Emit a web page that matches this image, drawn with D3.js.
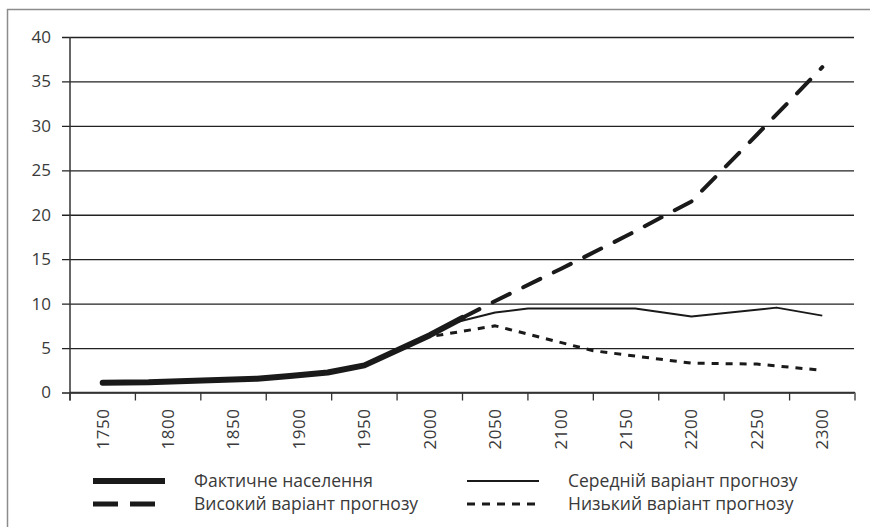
<!DOCTYPE html>
<html>
<head>
<meta charset="utf-8">
<script src="https://cdn.jsdelivr.net/npm/d3@7"></script>
<style>
  body { margin: 0; background: #fff; }
  svg { display: block; font-family: "Open Sans", sans-serif; }
</style>
</head>
<body>
<div id="chart"></div>
<script>
// categories on the x axis and y ticks
var yearLabels = ["1750","1800","1850","1900","1950","2000","2050","2100","2150","2200","2250","2300"];
var yTicks = [0,5,10,15,20,25,30,35,40];

// series (billions)
var actualYears = [1750, 1785, 1868, 1893, 1922, 1950, 2000, 2025];
var actualVals  = [1.1, 1.15, 1.55, 1.85, 2.25, 3.05, 6.45, 8.4];

var mediumYears = [2020, 2050, 2075, 2157, 2200, 2265, 2300];
var mediumVals  = [7.9, 9.0, 9.45, 9.45, 8.55, 9.55, 8.65];

var highYears = [2025, 2050, 2100, 2150, 2200, 2250, 2300];
var highVals  = [8.4, 10.3, 13.9, 17.6, 21.5, 29.0, 36.6];

var lowYears = [2005, 2050, 2125, 2200, 2250, 2300];
var lowVals  = [6.4, 7.5, 4.7, 3.3, 3.2, 2.5];

var legendNames = ["Фактичне населення", "Середній варіант прогнозу", "Високий варіант прогнозу", "Низький варіант прогнозу"];

var W = 870, H = 527;
var margin = {top: 37, left: 70},
    width = 785,
    height = 355.5;

var svg = d3.select("#chart").append("svg")
  .attr("width", W)
  .attr("height", H);

// outer frame
svg.append("path")
  .attr("d", "M7.5," + H + "V9.5H" + W)
  .attr("fill", "none")
  .attr("stroke", "#8c8c8c")
  .attr("stroke-width", 1.5);

var g = svg.append("g")
  .attr("transform", "translate(" + margin.left + "," + margin.top + ")");

var x = d3.scaleBand().domain(yearLabels).range([0, width]);
var bw = x.bandwidth();
var xYear = d3.scaleLinear()
  .domain([+yearLabels[0], +yearLabels[yearLabels.length - 1]])
  .range([x(yearLabels[0]) + bw / 2, x(yearLabels[yearLabels.length - 1]) + bw / 2]);
var y = d3.scaleLinear().domain([0, 40]).range([height, 0]);

// y axis + gridlines
var yAxis = g.append("g")
  .call(d3.axisLeft(y).tickValues(yTicks).tickSize(8).tickPadding(11));
yAxis.select(".domain").remove();
yAxis.selectAll(".tick line")
  .attr("x2", width - 1)
  .attr("x1", -8)
  .attr("stroke", "#222")
  .attr("stroke-width", 1.3);
yAxis.selectAll(".tick text")
  .attr("fill", "#3a3a3a")
  .style("font-size", "17px")
  .style("font-family", "'Open Sans', sans-serif");

g.append("line")
  .attr("x1", 0).attr("x2", 0)
  .attr("y1", 0).attr("y2", height + 8)
  .attr("stroke", "#333")
  .attr("stroke-width", 1.5);

// x axis (ticks between categories)
var xAxis = g.append("g")
  .attr("transform", "translate(0," + height + ")");
xAxis.append("line")
  .attr("x1", 0).attr("x2", width)
  .attr("stroke", "#333").attr("stroke-width", 1.5);
xAxis.selectAll(".xt")
  .data(yearLabels.concat(["end"]))
  .enter().append("line")
  .attr("class", "xt")
  .attr("x1", function(d, i) { return i * bw; })
  .attr("x2", function(d, i) { return i * bw; })
  .attr("y1", 0).attr("y2", 8)
  .attr("stroke", "#333").attr("stroke-width", 1.3);
xAxis.selectAll(".xl")
  .data(yearLabels)
  .enter().append("text")
  .attr("class", "xl")
  .attr("transform", function(d) { return "translate(" + (x(d) + bw / 2) + ",16) rotate(-90)"; })
  .attr("dy", "0.35em")
  .attr("text-anchor", "end")
  .attr("fill", "#3a3a3a")
  .style("font-size", "17px")
  .style("letter-spacing", "0.5px")
  .text(function(d) { return d; });

var line = d3.line()
  .x(function(d) { return xYear(d[0]); })
  .y(function(d) { return y(d[1]); });

var styles = {
  actual: {w: 6, dash: null, cap: "round"},
  medium: {w: 2, dash: null, cap: "butt"},
  high:   {w: 4, dash: "19,15", cap: "round"},
  low:    {w: 3, dash: "7,7", cap: "butt"}
};

function drawSeries(yrs, vals, st) {
  g.append("path")
    .datum(d3.zip(yrs, vals))
    .attr("d", line)
    .attr("fill", "none")
    .attr("stroke", "#1a1a1a")
    .attr("stroke-width", st.w)
    .attr("stroke-linecap", st.cap)
    .attr("stroke-linejoin", "round")
    .attr("stroke-dasharray", st.dash);
}

drawSeries(lowYears, lowVals, styles.low);
drawSeries(highYears, highVals, styles.high);
drawSeries(mediumYears, mediumVals, styles.medium);
drawSeries(actualYears, actualVals, styles.actual);

// legend
var legendItems = [
  {name: legendNames[0], st: {w: 6, dash: null, cap: "butt"}, x: 93, y: 481},
  {name: legendNames[1], st: {w: 2, dash: null, cap: "butt"}, x: 467, y: 481},
  {name: legendNames[2], st: {w: 5, dash: "25,12", cap: "butt"}, x: 93, y: 504},
  {name: legendNames[3], st: {w: 3, dash: "8,7", cap: "butt"}, x: 467, y: 504}
];

var lg = svg.selectAll(".legend")
  .data(legendItems)
  .enter().append("g")
  .attr("class", "legend")
  .attr("transform", function(d) { return "translate(" + d.x + "," + d.y + ")"; });

lg.append("line")
  .attr("x1", 0).attr("x2", 72)
  .attr("stroke", "#1a1a1a")
  .attr("stroke-width", function(d) { return d.st.w; })
  .attr("stroke-linecap", function(d) { return d.st.cap; })
  .attr("stroke-dasharray", function(d) { return d.st.dash; });

lg.append("text")
  .attr("x", 101)
  .attr("dy", "0.35em")
  .attr("fill", "#3a3a3a")
  .style("font-size", "17.5px")
  .text(function(d) { return d.name; });
</script>
</body>
</html>
